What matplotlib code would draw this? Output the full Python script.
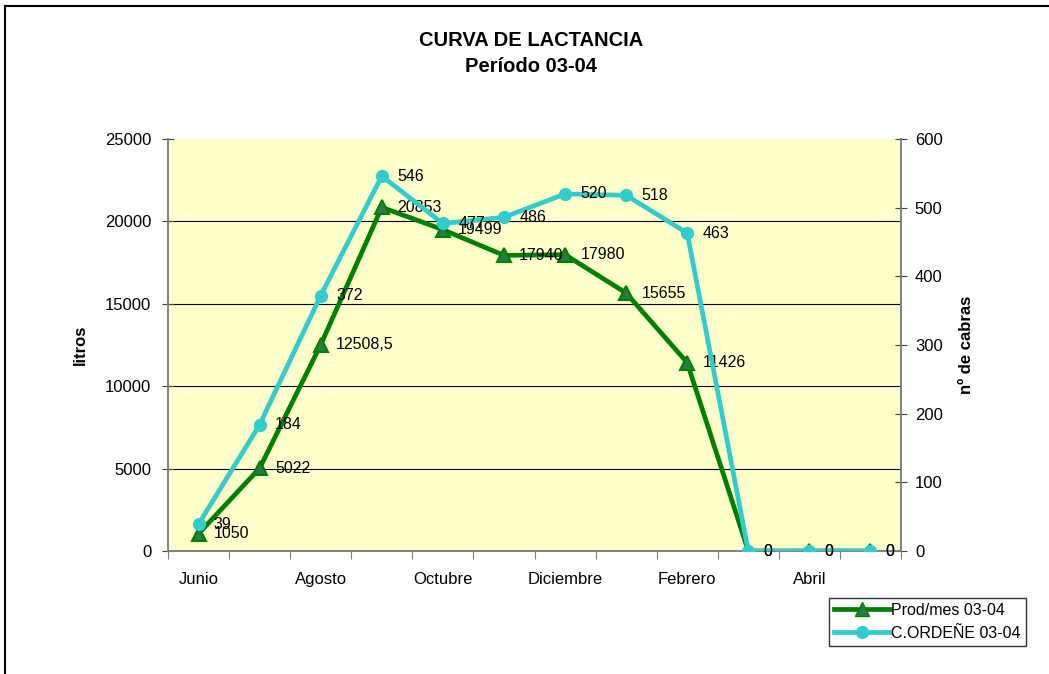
import matplotlib.pyplot as plt
from matplotlib.lines import Line2D

plt.rcParams['font.family'] = ['Liberation Sans', 'DejaVu Sans']

# Monthly data, June 2003 - May 2004
meses = ['Junio', 'Julio', 'Agosto', 'Septiembre', 'Octubre', 'Noviembre',
         'Diciembre', 'Enero', 'Febrero', 'Marzo', 'Abril', 'Mayo']
prod_mes = [1050, 5022, 12508.5, 20853, 19499, 17940, 17980, 15655, 11426, 0, 0, 0]
prod_labels = ['1050', '5022', '12508,5', '20853', '19499', '17940', '17980',
               '15655', '11426', '0', '0', '0']
cabras = [39, 184, 372, 546, 477, 486, 520, 518, 463, 0, 0, 0]

green = '#008000'
cyan = '#33CCCC'

fig = plt.figure(figsize=(10.49, 6.74), dpi=100)
ax = fig.add_axes([168 / 1049, 1 - 551 / 674, (901 - 168) / 1049, (551 - 139) / 674])
ax2 = ax.twinx()

ax.set_facecolor('#FFFFCC')
x = list(range(len(meses)))

ax.plot(x, prod_mes, color=green, lw=3.4, marker='^', ms=10,
        mfc='#2A7A45', mec=green, mew=1.5, zorder=3)
ax2.plot(x, cabras, color=cyan, lw=3.4, marker='o', ms=8.5,
         mfc=cyan, mec=cyan, zorder=4)

for xi, v, lab in zip(x, prod_mes, prod_labels):
    ax.annotate(lab, (xi, v), xytext=(11, 0), textcoords='offset points',
                va='center', ha='left', fontsize=11.5, zorder=5)
for xi, v in zip(x, cabras):
    ax2.annotate(str(v), (xi, v), xytext=(11, 0), textcoords='offset points',
                 va='center', ha='left', fontsize=11.5, zorder=5)

ax.set_xlim(-0.5, 11.5)
ax.set_ylim(0, 25000)
ax2.set_ylim(0, 600)
ax.set_yticks(range(0, 25001, 5000))
ax2.set_yticks(range(0, 601, 100))

ax.set_xticks([i - 0.5 for i in range(13)])
ax.set_xticklabels([])
ax.set_xticks(x[::2], minor=True)
ax.set_xticklabels(meses[::2], minor=True, fontsize=12)
ax.tick_params(axis='x', which='minor', length=0, pad=15)
ax.tick_params(axis='x', which='major', direction='out', length=6, color='#808080')
ax.tick_params(axis='y', direction='inout', length=8, labelsize=12, color='#404040', pad=8)
ax2.tick_params(axis='y', direction='inout', length=8, labelsize=12, color='#404040', pad=6)

for y in range(5000, 25000, 5000):
    ax.axhline(y, color='black', lw=0.8, zorder=1)

for a in (ax, ax2):
    a.spines['top'].set_visible(False)
    for s in ('left', 'right', 'bottom'):
        a.spines[s].set_color('#808080')
        a.spines[s].set_linewidth(1.2)

ax.set_ylabel('litros', fontsize=12, fontweight='bold', labelpad=12)
ax2.set_ylabel('nº de cabras', fontsize=12, fontweight='bold', labelpad=12)

fig.text(531 / 1049, 1 - 40 / 674, 'CURVA DE LACTANCIA', ha='center', va='center',
         fontsize=14.5, fontweight='bold')
fig.text(531 / 1049, 1 - 67 / 674, 'Período 03-04', ha='center', va='center',
         fontsize=14.5, fontweight='bold')

# chart area border (only left and top visible)
fig.add_artist(Line2D([5 / 1049, 5 / 1049], [0, 1 - 6 / 674], transform=fig.transFigure,
                      color='black', lw=1.5))
fig.add_artist(Line2D([5 / 1049, 1], [1 - 6 / 674, 1 - 6 / 674], transform=fig.transFigure,
                      color='black', lw=1.5))

handles = [Line2D([], [], color=green, lw=3.4, marker='^', ms=10, mfc='#2A7A45', mec=green),
           Line2D([], [], color=cyan, lw=3.4, marker='o', ms=8.5, mfc=cyan, mec=cyan)]
leg = fig.legend(handles, ['Prod/mes 03-04', 'C.ORDEÑE 03-04'],
                 loc='upper left', bbox_to_anchor=(829 / 1049, 1 - 598 / 674),
                 fontsize=11.5, frameon=True, fancybox=False, edgecolor='black',
                 handlelength=3.5, handletextpad=0.1, borderpad=0.3,
                 labelspacing=0.5, borderaxespad=0)
leg.get_frame().set_linewidth(1.0)

fig.savefig('out.png', dpi=100)
